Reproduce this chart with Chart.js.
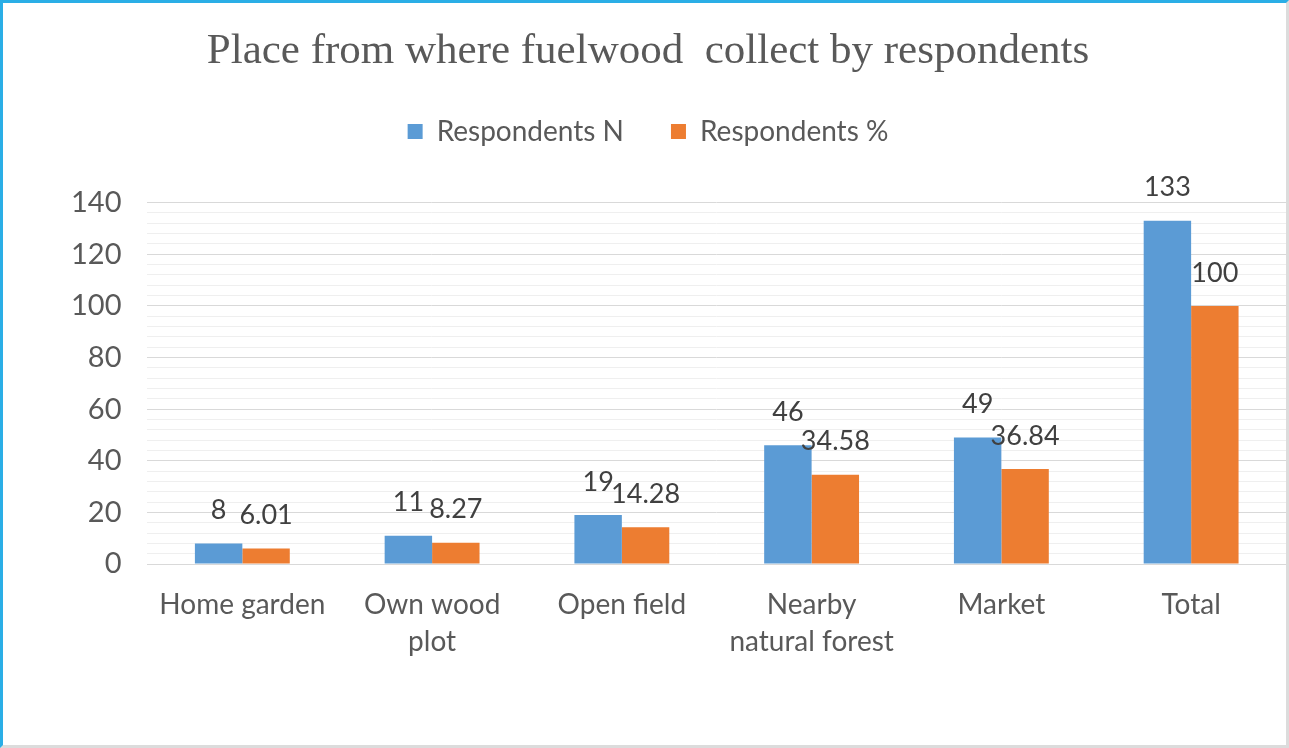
<!DOCTYPE html>
<html>
<head>
<meta charset="utf-8">
<script src="https://cdn.jsdelivr.net/npm/chart.js@4.4.0/dist/chart.umd.min.js"></script>
<style>
  html, body { margin: 0; padding: 0; background: #fff; }
  #wrap {
    position: relative;
    width: 1289px; height: 748px;
    box-sizing: border-box;
    border-left: 3px solid #2aaee6;
    border-top: 3px solid #2aaee6;
    border-right: 3px solid #dcdcdc;
    border-bottom: 3px solid #dcdcdc;
  }
</style>
</head>
<body>
<div id="wrap"><canvas id="chart" width="1283" height="742"></canvas></div>
<script>
// categories and values
var places = ["Home garden", ["Own wood", "plot"], "Open field", ["Nearby", "natural forest"], "Market", "Total"];
var respondentsN = [8, 11, 19, 46, 49, 133];
var respondentsPct = [6.01, 8.27, 14.28, 34.58, 36.84, 100];
var yTicks = [0, 20, 40, 60, 80, 100, 120, 140];

var textGrey = "#595959";
var labelFont = "Lato, 'Open Sans', sans-serif";

// draw the value above every bar, like the excel labels
var barLabels = {
  id: "barLabels",
  afterDatasetsDraw: function(chart) {
    var ctx = chart.ctx;
    ctx.save();
    ctx.font = "27px " + labelFont;
    ctx.fillStyle = "#404040";
    ctx.textAlign = "center";
    ctx.textBaseline = "middle";
    chart.data.datasets.forEach(function(ds, i) {
      var meta = chart.getDatasetMeta(i);
      meta.data.forEach(function(bar, j) {
        ctx.fillText(String(ds.data[j]), bar.x, bar.y - 33);
      });
    });
    ctx.restore();
  }
};

// more room between legend and plot
var legendGap = {
  id: "legendGap",
  beforeInit: function(chart) {
    var fit = chart.legend.fit;
    chart.legend.fit = function() {
      fit.bind(chart.legend)();
      this.height += 47;
    };
  }
};

var ctx = document.getElementById("chart").getContext("2d");
var chart = new Chart(ctx, {
  type: "bar",
  data: {
    labels: places,
    datasets: [
      {
        label: "Respondents N",
        data: respondentsN,
        backgroundColor: "#5b9bd5",
        categoryPercentage: 0.5,
        barPercentage: 1.0
      },
      {
        label: "Respondents %",
        data: respondentsPct,
        backgroundColor: "#ed7d31",
        categoryPercentage: 0.5,
        barPercentage: 1.0
      }
    ]
  },
  options: {
    responsive: false,
    animation: false,
    layout: { padding: { left: 7, right: 0, top: 23, bottom: 71 } },
    plugins: {
      title: {
        display: true,
        text: "Place from where fuelwood  collect by respondents",
        color: textGrey,
        font: { family: "'Liberation Serif', serif", size: 43, weight: "normal" },
        padding: { top: 0, bottom: -7 }
      },
      legend: {
        position: "top",
        labels: {
          color: textGrey,
          font: { family: labelFont, size: 28 },
          boxWidth: 15,
          boxHeight: 15,
          padding: 47
        }
      },
      tooltip: { enabled: false }
    },
    scales: {
      x: {
        grid: { display: false },
        border: { color: "#d9d9d9", width: 1 },
        ticks: {
          color: textGrey,
          font: { family: labelFont, size: 28, lineHeight: 1.32 },
          maxRotation: 0,
          padding: 14
        }
      },
      y: {
        min: 0,
        max: 140,
        border: { display: false },
        afterFit: function(s) { s.width += 35; },
        grid: {
          color: function(c) {
            return c.tick && c.tick.value % 20 === 0 ? "#d9d9d9" : "#efefef";
          },
          drawTicks: false
        },
        ticks: {
          stepSize: 4,
          autoSkip: false,
          color: textGrey,
          font: { family: labelFont, size: 29 },
          padding: 26,
          callback: function(v) {
            return yTicks.indexOf(v) >= 0 ? v : "";
          }
        }
      }
    }
  },
  plugins: [barLabels, legendGap]
});
</script>
</body>
</html>
